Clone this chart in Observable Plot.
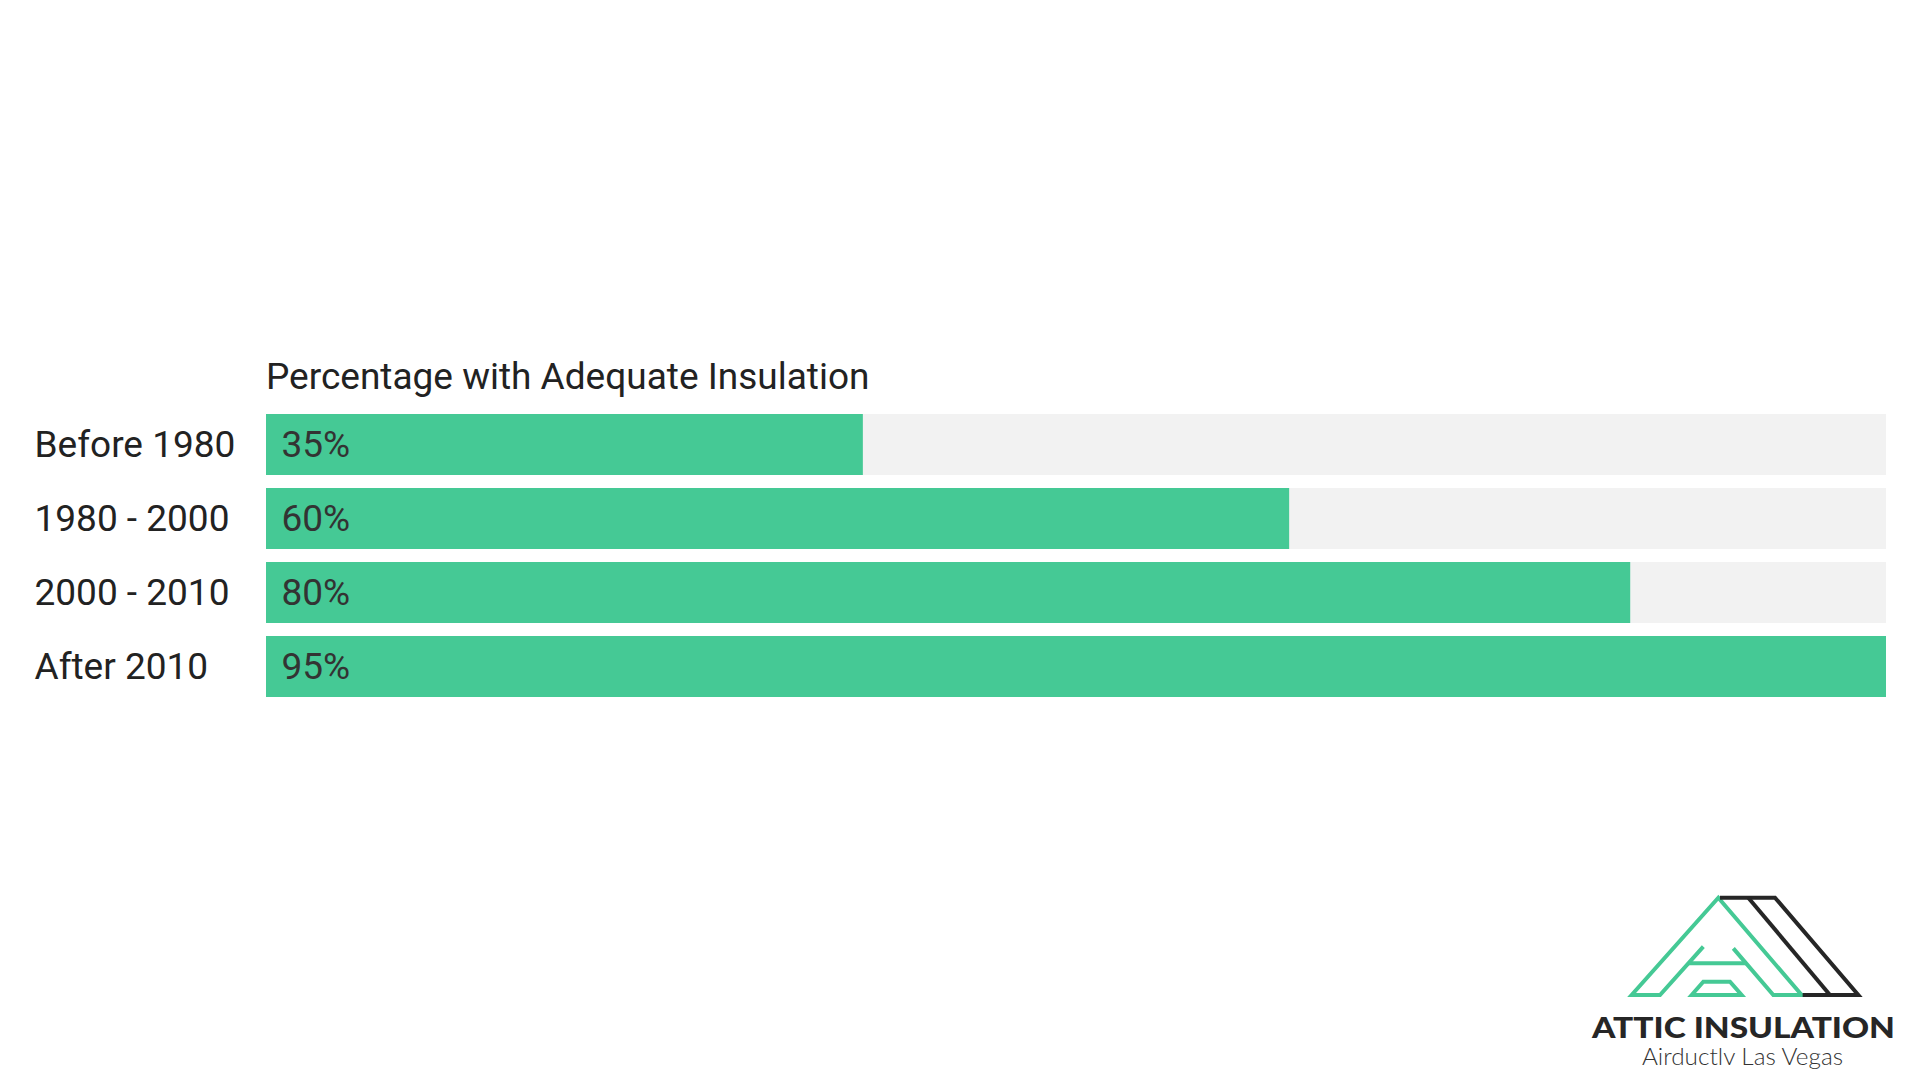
<!DOCTYPE html>
<html>
<head>
<meta charset="utf-8">
<script src="https://cdn.jsdelivr.net/npm/d3@7"></script>
<script src="https://cdn.jsdelivr.net/npm/@observablehq/plot@0.6"></script>
<style>
  html, body { margin: 0; padding: 0; background: #ffffff; }
  #page { position: relative; width: 1920px; height: 1080px; overflow: hidden; font-family: Roboto, "Noto Sans", sans-serif; }
  #title { position: absolute; left: 266px; top: 358px; font-size: 37px; line-height: 1; color: #222; white-space: nowrap; }
  #chart { position: absolute; left: 0; top: 400px; }
  #logo { position: absolute; left: 1580px; top: 880px; }
</style>
</head>
<body>
<div id="page">
  <div id="title">Percentage with Adequate Insulation</div>
  <div id="chart"></div>
  <svg id="logo" width="340" height="200" viewBox="0 0 340 200">
    <g transform="translate(40,5) scale(0.3333)" fill="none" stroke-linejoin="miter" stroke-width="12">
      <path stroke="#45c995" d="M250 185 L120 330 L35 330 L295 38 L545 330 L460 330 L340 190"/>
      <path stroke="#45c995" d="M205 235 L381 235"/>
      <path stroke="#45c995" d="M215 330 L250 290 L330 290 L365 330 Z"/>
      <path stroke="#262626" d="M300 38 L465 38 L715 330 L548 330"/>
      <path stroke="#262626" d="M385 38 L630 330"/>
    </g>
    <text x="12" y="158" font-family="Lato, sans-serif" font-weight="900" font-size="28" fill="#262626" textLength="303" lengthAdjust="spacingAndGlyphs">ATTIC INSULATION</text>
    <text x="62" y="185" font-family="Lato, sans-serif" font-weight="300" font-size="24" fill="#333" textLength="201" lengthAdjust="spacingAndGlyphs">Airductlv Las Vegas</text>
  </svg>
</div>
<script>
const categories = ["Before 1980", "1980 - 2000", "2000 - 2010", "After 2010"];
const values = [35, 60, 80, 95];
const valueLabels = ["35%", "60%", "80%", "95%"];

const data = categories.map((c, i) => ({category: c, value: values[i], label: valueLabels[i]}));
const trackMax = d3.max(values);

const chart = Plot.plot({
  width: 1920,
  height: 320,
  marginLeft: 266,
  marginRight: 34,
  marginTop: 13,
  marginBottom: 22,
  style: {fontFamily: "Roboto, 'Noto Sans', sans-serif", background: "transparent"},
  x: {domain: [0, trackMax], axis: null},
  y: {domain: categories, paddingInner: 0.175, paddingOuter: 0, label: null},
  marks: [
    Plot.barX(data, {y: "category", x: () => trackMax, fill: "#f2f2f2"}),
    Plot.barX(data, {y: "category", x: "value", fill: "#45c995"}),
    Plot.text(data, {y: "category", x: 0, text: "label", textAnchor: "start", dx: 15, fontSize: 37, fill: "#333"}),
    Plot.axisY({tickSize: 0, textAnchor: "start", dx: -223, fontSize: 37, fill: "#222", label: null})
  ]
});
document.getElementById("chart").appendChild(chart);
</script>
</body>
</html>
